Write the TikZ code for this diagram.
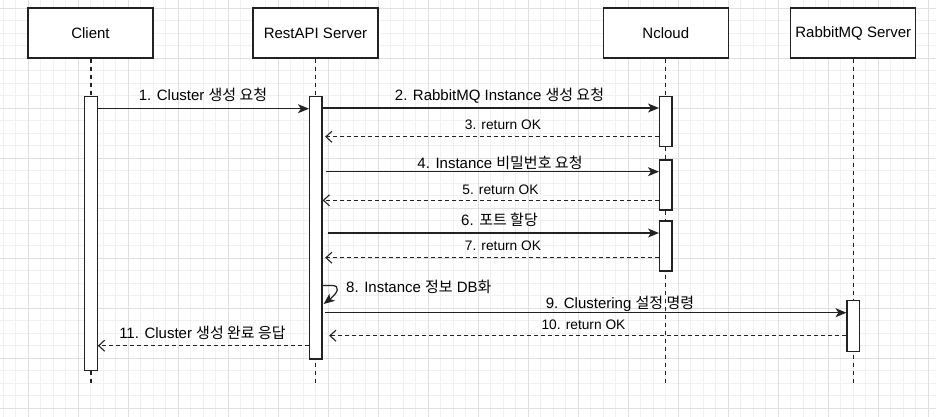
\documentclass[tikz,border=0pt]{standalone}
\usepackage{fontspec}
\setmainfont{Liberation Sans}
\newfontfamily\kr{Noto Sans CJK KR}
\usetikzlibrary{arrows.meta}
\definecolor{gridminor}{HTML}{F1F1F1}
\definecolor{gridmajor}{HTML}{E0E0E0}
\definecolor{ink}{HTML}{222222}

\begin{document}
\begin{tikzpicture}[x=1pt,y=-1pt,
	actor/.style={draw=ink, fill=white, line width=1.2pt, minimum width=125pt, minimum height=50pt, inner sep=0pt, font=\fontsize{15}{18}\selectfont},
	bar/.style={draw=ink, fill=white, line width=1.2pt, minimum width=12.5pt, anchor=north, inner sep=0pt},
	lifeline/.style={ink, line width=1.2pt, dash pattern=on 4pt off 4pt},
	call/.style={ink, line width=1.2pt, -{Stealth[length=11pt,width=9pt,inset=3pt]}},
	reply/.style={ink, line width=1.1pt, dash pattern=on 4pt off 3pt, -{Straight Barb[length=6pt,width=11pt]}},
	msg/.style={font=\fontsize{15}{18}\selectfont, inner sep=0pt, anchor=base},
	ret/.style={font=\fontsize{13.75}{16}\selectfont, inner sep=0pt, anchor=base}]
			\useasboundingbox (0,0) rectangle (936,417);
			\fill[white] (0,0) rectangle (936,417);
			\foreach \i in {0,...,74} \draw[gridminor, line width=0.8pt] (3+12.5*\i,0) -- (3+12.5*\i,417);
			\foreach \j in {0,...,32} \draw[gridminor, line width=0.8pt] (0,8+12.5*\j) -- (936,8+12.5*\j);
			\foreach \i in {0,...,18} \draw[gridmajor, line width=0.8pt] (28+50*\i,0) -- (28+50*\i,417);
			\foreach \j in {0,...,8} \draw[gridmajor, line width=0.8pt] (0,8+50*\j) -- (936,8+50*\j);
			\node[actor] (client) at (90.5,33) {Client};
			\node[actor] (rest) at (315.5,33) {RestAPI Server};
			\node[actor] (ncloud) at (665.8,33) {Ncloud};
			\node[actor] (rabbit) at (853.3,33) {RabbitMQ Server};
			\coordinate (clientend) at (91,383);
			\coordinate (restend) at (315.8,383);
			\coordinate (ncloudend) at (665.8,383);
			\coordinate (rabbitend) at (853.3,383);
			\draw[lifeline] (client.south -| clientend) -- (clientend);
			\draw[lifeline] (rest.south -| restend) -- (restend);
			\draw[lifeline] (ncloud.south) -- (ncloudend);
			\draw[lifeline] (rabbit.south) -- (rabbitend);
			\node[bar, minimum height=274.3pt] (clientbar) at (91,95.7) {};
			\node[bar, minimum height=262.6pt] (restbar) at (315.8,95.7) {};
			\node[bar, minimum height=50pt] (ncloudbar1) at (665.8,95.7) {};
			\node[bar, minimum height=50pt] (ncloudbar2) at (665.8,159.3) {};
			\node[bar, minimum height=50pt] (ncloudbar3) at (665.8,220.3) {};
			\node[bar, minimum height=50.7pt] (rabbitbar) at (853.3,300) {};
			\draw[call] (clientbar.east |- 0,108.7) -- (restbar.west |- 0,108.7);
			\node[msg] (m1) at (203,100.7) {1. Cluster {\kr 생성 요청}};
			\draw[call] (restbar.east |- 0,108) -- (ncloudbar1.west |- 0,108);
			\node[msg] (m2) at (499.5,100.7) {2. RabbitMQ Instance {\kr 생성 요청}};
			\draw[reply, shorten >=2.5pt] (ncloudbar1.west |- 0,136.7) -- (restbar.east |- 0,136.7);
			\node[ret] (m3) at (503,129.3) {3. return OK};
			\draw[call, shorten <=3.5pt] (restbar.east |- 0,171.7) -- (ncloudbar2.west |- 0,171.7);
			\node[msg] (m4) at (500,168.7) {4. Instance {\kr 비밀번호 요청}};
			\draw[reply] (ncloudbar2.west |- 0,200.3) -- (restbar.east |- 0,200.3);
			\node[ret] (m5) at (500.5,194) {5. return OK};
			\draw[call, shorten <=5.5pt] (restbar.east |- 0,233) -- (ncloudbar3.west |- 0,233);
			\node[msg] (m6) at (499.5,225.3) {6. {\kr 포트 할당}};
			\draw[reply, shorten >=2.5pt] (ncloudbar3.west |- 0,257.7) -- (restbar.east |- 0,257.7);
			\node[ret] (m7) at (503,250.7) {7. return OK};
			\draw[call] (restbar.east |- 0,285.5) -- (332,285.5) .. controls (340,285.5) and (339,292) .. ([xshift=1pt]restbar.east |- 0,304);
			\node[msg, anchor=base west] (m8) at (346,292.7) {8. Instance {\kr 정보} DB{\kr 화}};
			\draw[call, shorten <=2.5pt] (restbar.east |- 0,312.7) -- (rabbitbar.west |- 0,312.7);
			\node[msg] (m9) at (620,308.3) {9. Clustering {\kr 설정 명령}};
			\draw[reply, shorten >=6.5pt] (rabbitbar.west |- 0,335.7) -- (restbar.east |- 0,335.7);
			\node[ret] (m10) at (583.5,329) {10. return OK};
			\draw[reply] (restbar.west |- 0,345.7) -- (clientbar.east |- 0,345.7);
			\node[msg] (m11) at (202.5,338.7) {11. Cluster {\kr 생성 완료 응답}};
		\end{tikzpicture}
\end{document}
